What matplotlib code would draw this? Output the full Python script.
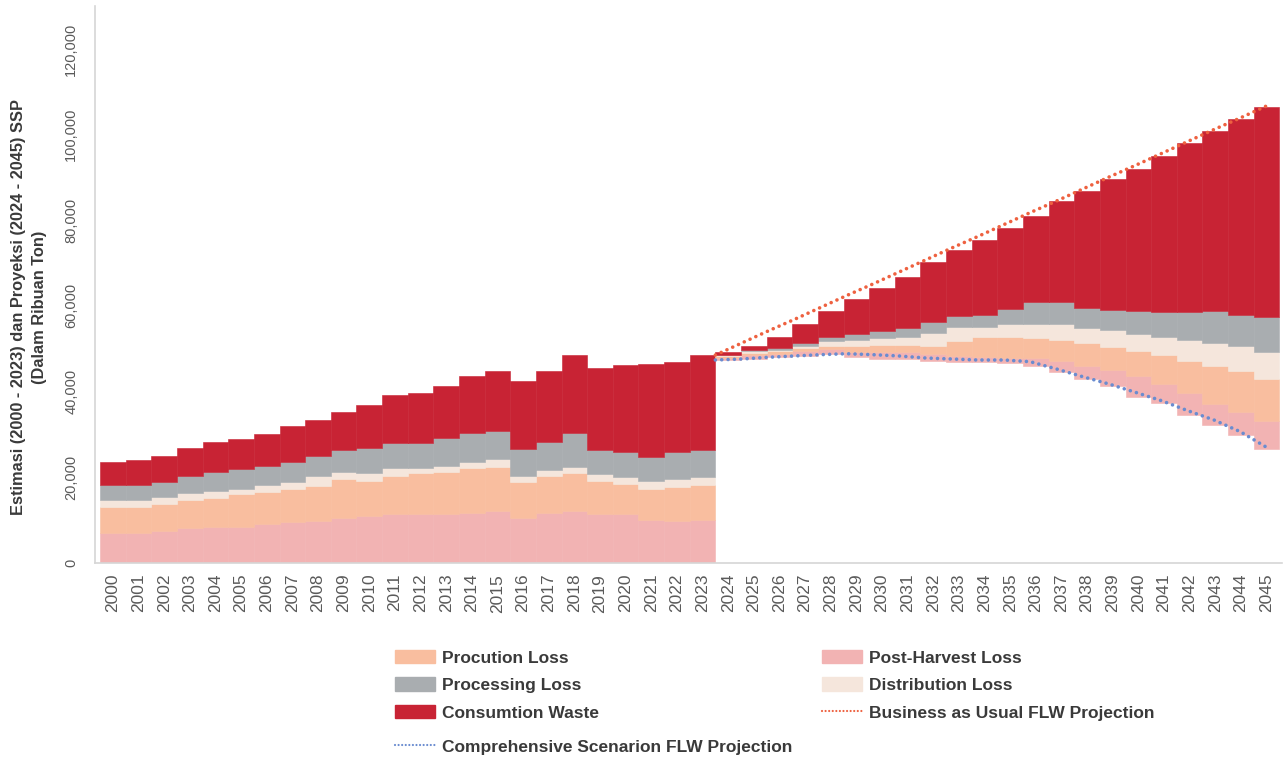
import matplotlib.pyplot as plt
import numpy as np
from matplotlib.patches import Patch
from matplotlib.lines import Line2D

# historical estimate 2000-2023 (thousand tonnes), stacked from zero
hist_years = list(range(2000, 2024))
hist_postharvest = [7010, 7010, 7400, 8180, 8340, 8340, 9110, 9510, 9740, 10440, 10910, 11450,
                    11450, 11450, 11610, 12080, 10440, 11610, 12080, 11380, 11380, 9970, 9740, 9970]
hist_production = [6000, 6000, 6310, 6470, 6770, 7710, 7400, 7710, 8180, 9110, 8180, 8810,
                   9510, 9740, 10510, 10280, 8410, 8640, 8880, 7710, 7010, 7240, 7940, 8180]
hist_distribution = [1640, 1640, 1640, 1640, 1640, 1170, 1640, 1640, 2340, 1640, 1870, 1870,
                     1170, 1400, 1400, 1870, 1400, 1400, 1400, 1640, 1640, 1870, 1870, 1870]
hist_processing = [3500, 3500, 3500, 3970, 4440, 4670, 4440, 4670, 4670, 5140, 5840, 5840,
                   5840, 6540, 6770, 6540, 6310, 6540, 7940, 5610, 5840, 5610, 6310, 6310]
hist_consumption = [5370, 5840, 6070, 6540, 7010, 7010, 7480, 8410, 8410, 8880, 10040, 11210,
                    11680, 12150, 13320, 14020, 15880, 16590, 18220, 19160, 20320, 21720, 21020, 22190]

# projection 2024-2045: bars sit on the comprehensive-scenario level
proj_years = list(range(2024, 2046))
proj_base = [47350, 47510, 47980, 48210, 48750, 47980, 47650, 47650, 47190, 46950, 46950,
             46580, 45950, 44550, 42840, 41280, 38780, 37240, 34500, 32170, 29830, 26560]
proj_postharvest = [540, 930, 770, 1240, 1170, 1240, 1570, 1570, 1570, 1330, 1100,
                    1310, 1800, 2570, 3110, 3740, 4840, 4510, 5140, 4980, 5370, 6540]
proj_production = [330, 470, 700, 700, 700, 1400, 1640, 1640, 1870, 3500, 4670,
                   4840, 4740, 4910, 5370, 5370, 5840, 6770, 7480, 8810, 9580, 9810]
proj_distribution = [230, 470, 300, 540, 1170, 1400, 1640, 1870, 3040, 3270, 2340,
                     3040, 3270, 3740, 3500, 3970, 3970, 4200, 4910, 5370, 5840, 6310]
proj_processing = [140, 370, 400, 630, 930, 1400, 1640, 2100, 2570, 2570, 2800,
                   3500, 5140, 5140, 4670, 4670, 5370, 5840, 6540, 7480, 7240, 8180]
proj_consumption = [630, 860, 2570, 4440, 6070, 8180, 10040, 11910, 14020, 15420, 17520,
                    18920, 20090, 23590, 27330, 30600, 33170, 36440, 39480, 42120, 45790, 49130]

bau_line = [48500, 51300, 54100, 56800, 59600, 62400, 65100, 67900, 70700, 73500, 76200,
            79000, 81800, 84500, 87300, 90100, 92800, 95600, 98400, 101200, 103900, 106700]
comp_line = [47350, 47580, 47980, 48290, 48590, 48820, 48590, 48290, 47820, 47580, 47350,
             47350, 46950, 45250, 43450, 41740, 39810, 37840, 35510, 33330, 30600, 26960]

labels = ['Procution Loss', 'Post-Harvest Loss', 'Processing Loss', 'Distribution Loss',
          'Consumtion Waste', 'Business as Usual FLW Projection',
          'Comprehensive Scenarion FLW Projection']

c_ph = '#f2b3b3'
c_prod = '#f9be9f'
c_dist = '#f5e6dc'
c_proc = '#a9adb0'
c_cons = '#c82334'
c_bau = '#ee6140'
c_comp = '#6a8cd0'
text_col = '#3a3a3a'
tick_col = '#5a5a5a'

plt.rcParams['font.family'] = ['Liberation Sans', 'DejaVu Sans']

fig = plt.figure(figsize=(12.85, 7.57), dpi=100)
ax = fig.add_axes([0.0739, 0.2567, 0.9237, 0.7351])


def stack(years, base, layers):
    bottom = np.array(base, dtype=float)
    for vals, col in layers:
        vals = np.array(vals, dtype=float)
        ax.bar(years, vals, bottom=bottom, width=1.0, color=col, edgecolor=col, linewidth=0.4)
        bottom = bottom + vals


stack(hist_years, np.zeros(len(hist_years)),
      [(hist_postharvest, c_ph), (hist_production, c_prod), (hist_distribution, c_dist),
       (hist_processing, c_proc), (hist_consumption, c_cons)])
stack(proj_years, proj_base,
      [(proj_postharvest, c_ph), (proj_production, c_prod), (proj_distribution, c_dist),
       (proj_processing, c_proc), (proj_consumption, c_cons)])

# lines run from the 2023/2024 boundary to the 2045 bar centre
line_x = np.linspace(proj_years[0] - 0.5, proj_years[-1], len(proj_years))
ax.plot(line_x, bau_line, color=c_bau, lw=2.6, linestyle=(0, (0.01, 1.75)),
        dash_capstyle='round', zorder=5)
ax.plot(line_x, comp_line, color=c_comp, lw=2.6, linestyle=(0, (0.01, 1.75)),
        dash_capstyle='round', zorder=5)

ax.set_xlim(1999.3, 2045.6)
ax.set_ylim(0, 130000)
ax.set_xticks(hist_years + proj_years)
ax.set_xticklabels([str(y) for y in hist_years + proj_years], rotation=90,
                   fontsize=12.5, color=tick_col)
yt = np.arange(0, 120001, 20000)
ax.set_yticks(yt)
ax.set_yticklabels([f'{v:,}' for v in yt], rotation=90, va='center',
                   fontsize=10.5, color=tick_col)
ax.tick_params(axis='both', length=0)
ax.tick_params(axis='x', pad=8)
ax.tick_params(axis='y', pad=12)
for s in ['top', 'right']:
    ax.spines[s].set_visible(False)
for s in ['left', 'bottom']:
    ax.spines[s].set_color('#d6d6d6')
    ax.spines[s].set_linewidth(1.2)

fig.text(29 / 1285, 1 - 307 / 757,
         'Estimasi (2000 - 2023) dan Proyeksi (2024 - 2045) SSP\n(Dalam Ribuan Ton)',
         rotation=90, ha='center', va='center', multialignment='center',
         fontsize=11.8, fontweight='bold', color=text_col, linespacing=1.55)

fs = 12.5
leg_kw = dict(frameon=False, loc='upper left', borderpad=0, borderaxespad=0,
              handlelength=2.3, handleheight=0.8, handletextpad=0.4, labelspacing=0.68,
              prop={'weight': 'bold', 'size': fs})


def dotted(col):
    return Line2D([], [], color=col, lw=1.6, linestyle=(0, (0.01, 1.6)), dash_capstyle='round')


left_h = [Patch(color=c_prod), Patch(color=c_proc), Patch(color=c_cons)]
right_h = [Patch(color=c_ph), Patch(color=c_dist), dotted(c_bau)]
l1 = fig.legend(left_h, [labels[0], labels[2], labels[4]],
                bbox_to_anchor=(395 / 1285, 1 - 650 / 757), **leg_kw)
l2 = fig.legend(right_h, [labels[1], labels[3], labels[5]],
                bbox_to_anchor=(822 / 1285, 1 - 650 / 757), **leg_kw)
l3 = fig.legend([dotted(c_comp)], [labels[6]],
                bbox_to_anchor=(395 / 1285, 1 - 739 / 757), **leg_kw)
for lg in (l1, l2, l3):
    for t in lg.get_texts():
        t.set_color(text_col)

fig.savefig('out.png', dpi=100)
